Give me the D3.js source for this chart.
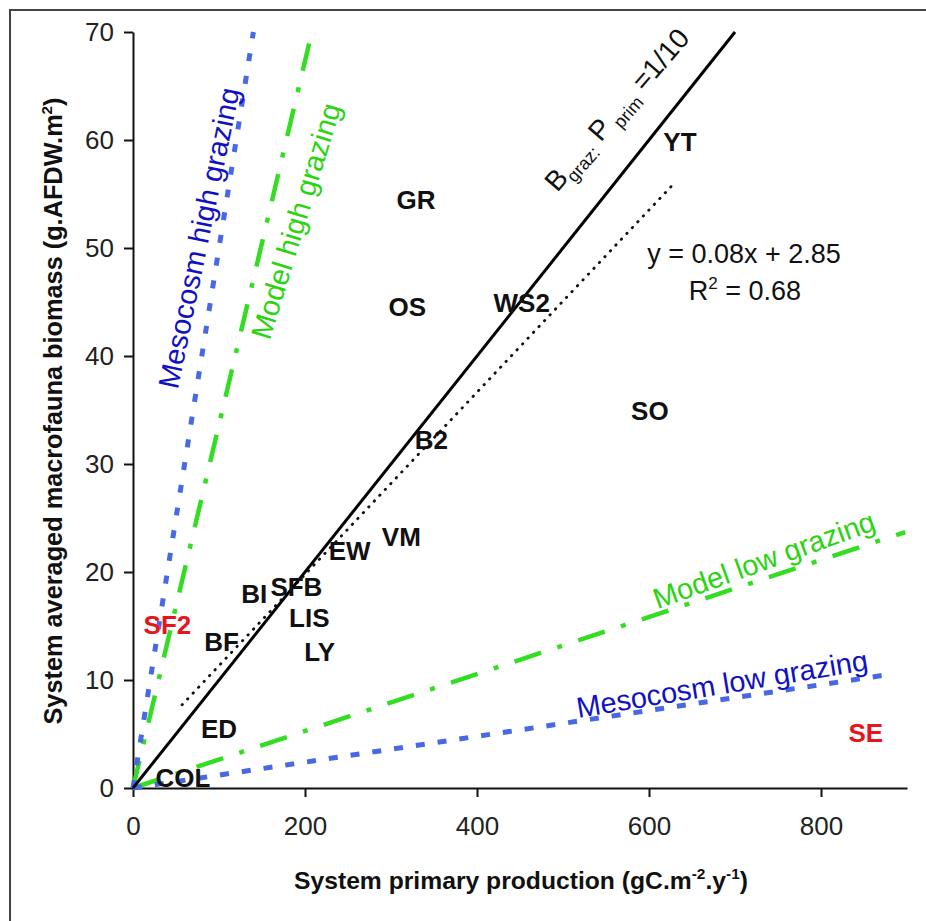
<!DOCTYPE html>
<html>
<head>
<meta charset="utf-8">
<script src="https://cdn.jsdelivr.net/npm/d3@7"></script>
<style>
  body { margin: 0; background: #fff; }
  svg { display: block; font-family: "Liberation Sans", Arial, sans-serif; }
</style>
</head>
<body>
<svg id="chart" width="926" height="921"></svg>
<script>
// site labels, placed at (primary production, macrofauna biomass)
const sites = ['YT', 'GR', 'OS', 'WS2', 'SO', 'B2', 'VM', 'EW', 'SFB', 'BI', 'LIS', 'LY', 'BF', 'SF2', 'ED', 'COL', 'SE']
const production = [636, 329, 319, 452, 601, 347, 312, 252, 190, 141, 205, 217, 103, 40, 100, 58, 852]
const biomass = [59.8, 54.4, 44.5, 44.9, 34.9, 32.2, 23.2, 21.9, 18.6, 18.0, 15.7, 12.6, 13.5, 15.1, 5.5, 0.9, 5.1]
const outliers = ['SF2', 'SE']

const xTicks = [0, 200, 400, 600, 800]
const yTicks = [0, 10, 20, 30, 40, 50, 60, 70]

// reference lines, end points
const ratioX = [0, 700], ratioY = [0, 70]          // B graz : P prim = 1/10
const trendX = [57, 627], trendY = [7.7, 55.8]     // y = 0.08x + 2.85
const mesoHighX = [0, 140], mesoHighY = [0, 70]
const modelHighX = [0, 208], modelHighY = [0, 70]
const modelLowX = [0, 898], modelLowY = [0, 23.7]
const mesoLowX = [0, 878], mesoLowY = [0, 10.5]

const blueLine = '#4868e4', blueText = '#1010c4',
    greenLine = '#33dd22', greenText = '#2ad410',
    red = '#e8141c'

const svg = d3.select('#chart')

// outer frame
svg.append('rect')
    .attr('x', 10).attr('y', 10)
    .attr('width', 940).attr('height', 940)
    .attr('fill', 'none')
    .attr('stroke', '#444')
    .attr('stroke-width', 2)

const x = d3.scaleLinear().domain([0, 900]).range([133, 907])
const y = d3.scaleLinear().domain([0, 70]).range([788, 32])

const xAxis = svg.append('g')
    .attr('transform', `translate(0, ${y(0)})`)
    .call(d3.axisBottom(x).tickValues(xTicks).tickSize(9).tickSizeOuter(0).tickPadding(20))

const yAxis = svg.append('g')
    .attr('transform', `translate(${x(0)}, 0)`)
    .call(d3.axisLeft(y).tickValues(yTicks).tickSize(9).tickSizeOuter(0).tickPadding(10))

;[xAxis, yAxis].forEach(a => {
  a.selectAll('path, line').attr('stroke', '#111').attr('stroke-width', 2)
  a.selectAll('text')
      .attr('font-family', '"Liberation Sans", Arial, sans-serif')
      .attr('font-size', 26)
      .attr('fill', '#222')
})

// axis titles
const xTitle = svg.append('text')
    .attr('x', 521).attr('y', 889)
    .attr('text-anchor', 'middle')
    .attr('textLength', 454).attr('lengthAdjust', 'spacingAndGlyphs')
    .attr('font-size', 24).attr('font-weight', 'bold').attr('fill', '#111')
xTitle.append('tspan').text('System primary production (gC.m')
xTitle.append('tspan').attr('dy', -10).attr('font-size', 15).text('-2')
xTitle.append('tspan').attr('dy', 10).text('.y')
xTitle.append('tspan').attr('dy', -10).attr('font-size', 15).text('-1')
xTitle.append('tspan').attr('dy', 10).text(')')

const yTitle = svg.append('text')
    .attr('transform', 'translate(62, 411) rotate(-90)')
    .attr('text-anchor', 'middle')
    .attr('textLength', 627).attr('lengthAdjust', 'spacingAndGlyphs')
    .attr('font-size', 25).attr('font-weight', 'bold').attr('fill', '#111')
yTitle.append('tspan').text('System averaged macrofauna biomass (g.AFDW.m')
yTitle.append('tspan').attr('dy', -10).attr('font-size', 15).text('2')
yTitle.append('tspan').attr('dy', 10).text(')')

// lines
const line = d3.line().x(d => x(d[0])).y(d => y(d[1]))
const pairs = (xs, ys) => xs.map((v, i) => [v, ys[i]])

const plot = svg.append('g').attr('fill', 'none')

plot.append('path').datum(pairs(modelHighX, modelHighY))
    .attr('d', line).attr('stroke', greenLine).attr('stroke-width', 4.5)
    .attr('stroke-dasharray', '28,17,5,17')
plot.append('path').datum(pairs(modelLowX, modelLowY))
    .attr('d', line).attr('stroke', greenLine).attr('stroke-width', 4.5)
    .attr('stroke-dasharray', '28,17,5,17')
plot.append('path').datum(pairs(mesoHighX, mesoHighY))
    .attr('d', line).attr('stroke', blueLine).attr('stroke-width', 5)
    .attr('stroke-dasharray', '8,15')
plot.append('path').datum(pairs(mesoLowX, mesoLowY))
    .attr('d', line).attr('stroke', blueLine).attr('stroke-width', 5)
    .attr('stroke-dasharray', '9,13')
plot.append('path').datum(pairs(trendX, trendY))
    .attr('d', line).attr('stroke', '#111').attr('stroke-width', 2.8)
    .attr('stroke-linecap', 'round').attr('stroke-dasharray', '0.5,7.5')
plot.append('path').datum(pairs(ratioX, ratioY))
    .attr('d', line).attr('stroke', '#000').attr('stroke-width', 3)

// site labels
svg.append('g').selectAll('text')
    .data(sites)
    .enter().append('text')
    .attr('x', (d, i) => x(production[i]))
    .attr('y', (d, i) => y(biomass[i]))
    .attr('text-anchor', 'middle')
    .attr('dominant-baseline', 'central')
    .attr('font-size', 26)
    .attr('font-weight', 'bold')
    .attr('fill', d => outliers.includes(d) ? red : '#111')
    .text(d => d)

// rotated line annotations
function rotLabel(txt, cx, cy, angle, color) {
  return svg.append('text')
      .attr('transform', `translate(${cx}, ${cy}) rotate(${-angle})`)
      .attr('text-anchor', 'middle')
      .attr('dominant-baseline', 'central')
      .attr('font-size', 29)
      .attr('fill', color)
      .text(txt)
}
rotLabel('Mesocosm high grazing', 199, 238, 78.3, blueText)
rotLabel('Model high grazing', 296, 221, 73, greenText)
rotLabel('Model low grazing', 764, 560, 20, greenText)
rotLabel('Mesocosm low grazing', 722, 684, 9.4, blueText)

const ratioLabel = svg.append('text')
    .attr('transform', 'translate(624, 116) rotate(-49)')
    .attr('text-anchor', 'middle')
    .attr('font-size', 28)
    .attr('fill', '#111')
ratioLabel.append('tspan').text('B')
ratioLabel.append('tspan').attr('dy', 7).attr('font-size', 18).text('graz:')
ratioLabel.append('tspan').attr('dy', -7).text(' P')
ratioLabel.append('tspan').attr('dy', 7).attr('font-size', 18).text(' prim')
ratioLabel.append('tspan').attr('dy', -7).text(' =1/10')

// regression equation
svg.append('text')
    .attr('x', 744).attr('y', 263)
    .attr('text-anchor', 'middle')
    .attr('font-size', 27).attr('fill', '#111')
    .text('y = 0.08x + 2.85')
const r2 = svg.append('text')
    .attr('x', 745).attr('y', 300)
    .attr('text-anchor', 'middle')
    .attr('font-size', 27).attr('fill', '#111')
r2.append('tspan').text('R')
r2.append('tspan').attr('dy', -11).attr('font-size', 17).text('2')
r2.append('tspan').attr('dy', 11).text(' = 0.68')
</script>
</body>
</html>
